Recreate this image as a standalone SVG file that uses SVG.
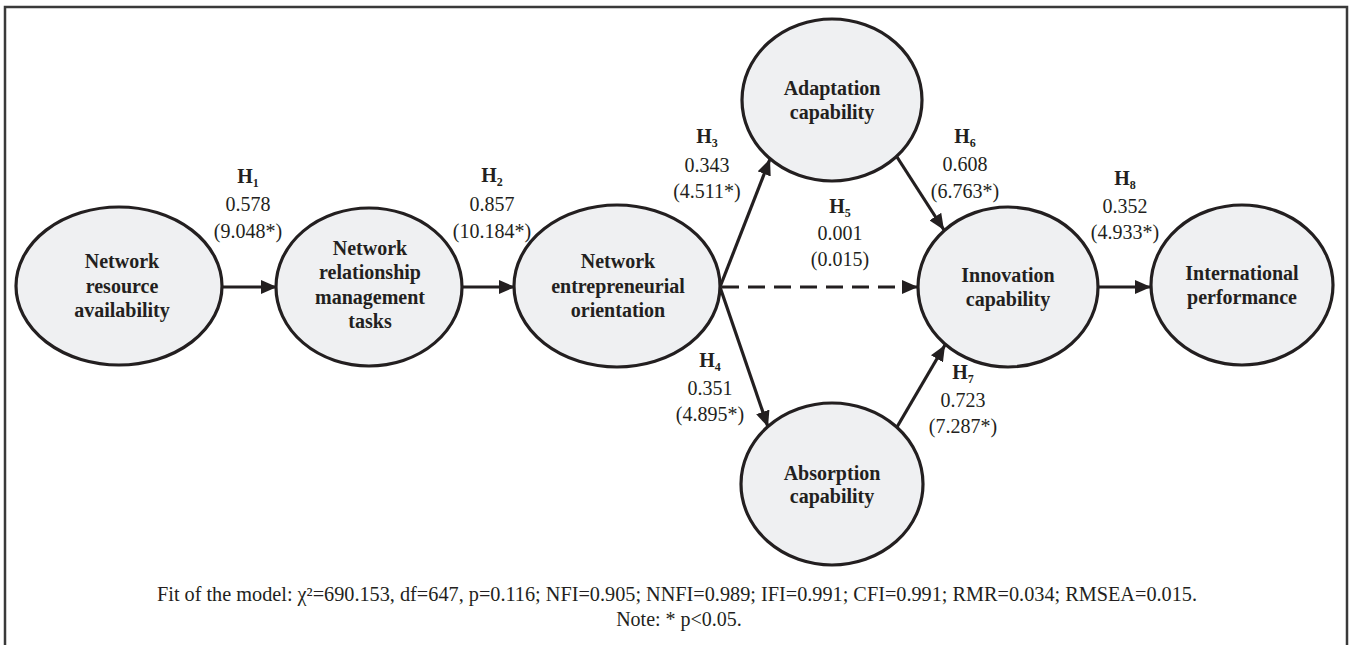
<svg xmlns="http://www.w3.org/2000/svg" width="1352" height="645" viewBox="0 0 1352 645">
<defs>
<style>
.node ellipse{fill:#eff0f2;stroke:#231f20;stroke-width:3.2}
.node text{font-family:"Liberation Serif","Times New Roman",serif;font-weight:bold;font-size:20px;fill:#231f20;text-anchor:middle}
.conn line{stroke:#231f20;stroke-width:3.2}
.dash{stroke-dasharray:17 9}
.lbl text{font-family:"Liberation Serif","Times New Roman",serif;font-size:20px;fill:#231f20;text-anchor:middle}
.lbl .h{font-weight:bold}
.lbl .sub{font-size:12px;font-weight:bold}
.note{font-family:"Liberation Serif","Times New Roman",serif;font-size:20px;fill:#231f20;text-anchor:middle}
</style>
<marker id="ah" viewBox="0 0 16 14" refX="16" refY="7" markerWidth="16" markerHeight="14" markerUnits="userSpaceOnUse" orient="auto">
<path d="M0,0 L16,7 L0,14 Z" fill="#231f20"/>
</marker>
</defs>
<rect width="1352" height="645" fill="#ffffff"/>
<path d="M5,645 L5,7 L1347,7 L1347,645" fill="none" stroke="#3a3a3a" stroke-width="2.5"/>

<g class="conn" id="connectors">
<line x1="222" y1="287" x2="277" y2="287" marker-end="url(#ah)"/>
<line x1="463" y1="287" x2="515" y2="287" marker-end="url(#ah)"/>
<line x1="720" y1="287" x2="770" y2="159" marker-end="url(#ah)"/>
<line x1="720" y1="287" x2="768" y2="427" marker-end="url(#ah)"/>
<line class="dash" x1="722" y1="287" x2="918" y2="287" marker-end="url(#ah)"/>
<line x1="897" y1="157" x2="944" y2="230" marker-end="url(#ah)"/>
<line x1="897" y1="427" x2="945" y2="345" marker-end="url(#ah)"/>
<line x1="1099" y1="287" x2="1151" y2="287" marker-end="url(#ah)"/>
</g>

<g class="node" id="n-resource">
<ellipse cx="119" cy="286" rx="103" ry="79"/>
<text x="122" y="268">Network</text><text x="122" y="293">resource</text><text x="122" y="317">availability</text>
</g>
<g class="node" id="n-relationship">
<ellipse cx="369" cy="287" rx="93" ry="79"/>
<text x="370" y="255">Network</text><text x="370" y="279">relationship</text><text x="370" y="304">management</text><text x="370" y="328">tasks</text>
</g>
<g class="node" id="n-entrepreneurial">
<ellipse cx="617" cy="286" rx="103" ry="81"/>
<text x="618" y="268">Network</text><text x="618" y="293">entrepreneurial</text><text x="618" y="317">orientation</text>
</g>
<g class="node" id="n-adaptation">
<ellipse cx="832" cy="100" rx="90" ry="81"/>
<text x="832" y="95">Adaptation</text><text x="832" y="119">capability</text>
</g>
<g class="node" id="n-absorption">
<ellipse cx="832" cy="484" rx="91" ry="81"/>
<text x="832" y="480">Absorption</text><text x="832" y="503">capability</text>
</g>
<g class="node" id="n-innovation">
<ellipse cx="1008" cy="287" rx="90" ry="80"/>
<text x="1008" y="282">Innovation</text><text x="1008" y="306">capability</text>
</g>
<g class="node" id="n-international">
<ellipse cx="1242" cy="285" rx="91" ry="80"/>
<text x="1242" y="280">International</text><text x="1242" y="304">performance</text>
</g>

<g class="lbl" id="labels">
<text x="248" y="183"><tspan class="h">H</tspan><tspan class="sub" dy="4">1</tspan></text>
<text x="248" y="211">0.578</text><text x="248" y="238">(9.048*)</text>
<text x="492" y="182"><tspan class="h">H</tspan><tspan class="sub" dy="4">2</tspan></text>
<text x="492" y="211">0.857</text><text x="492" y="238">(10.184*)</text>
<text x="707" y="143"><tspan class="h">H</tspan><tspan class="sub" dy="4">3</tspan></text>
<text x="707" y="172">0.343</text><text x="707" y="198">(4.511*)</text>
<text x="710" y="367"><tspan class="h">H</tspan><tspan class="sub" dy="4">4</tspan></text>
<text x="710" y="395">0.351</text><text x="710" y="421">(4.895*)</text>
<text x="840" y="213"><tspan class="h">H</tspan><tspan class="sub" dy="4">5</tspan></text>
<text x="840" y="240">0.001</text><text x="840" y="266">(0.015)</text>
<text x="965" y="143"><tspan class="h">H</tspan><tspan class="sub" dy="4">6</tspan></text>
<text x="965" y="171">0.608</text><text x="965" y="198">(6.763*)</text>
<text x="963" y="379"><tspan class="h">H</tspan><tspan class="sub" dy="4">7</tspan></text>
<text x="963" y="407">0.723</text><text x="963" y="433">(7.287*)</text>
<text x="1125" y="185"><tspan class="h">H</tspan><tspan class="sub" dy="4">8</tspan></text>
<text x="1125" y="213">0.352</text><text x="1125" y="239">(4.933*)</text>
</g>

<g id="fit-note">
<text class="note" x="677" y="601" textLength="1040" lengthAdjust="spacingAndGlyphs">Fit of the model: χ²=690.153, df=647, p=0.116; NFI=0.905; NNFI=0.989; IFI=0.991; CFI=0.991; RMR=0.034; RMSEA=0.015.</text>
<text class="note" x="679" y="626">Note: * p&lt;0.05.</text>
</g>
</svg>
